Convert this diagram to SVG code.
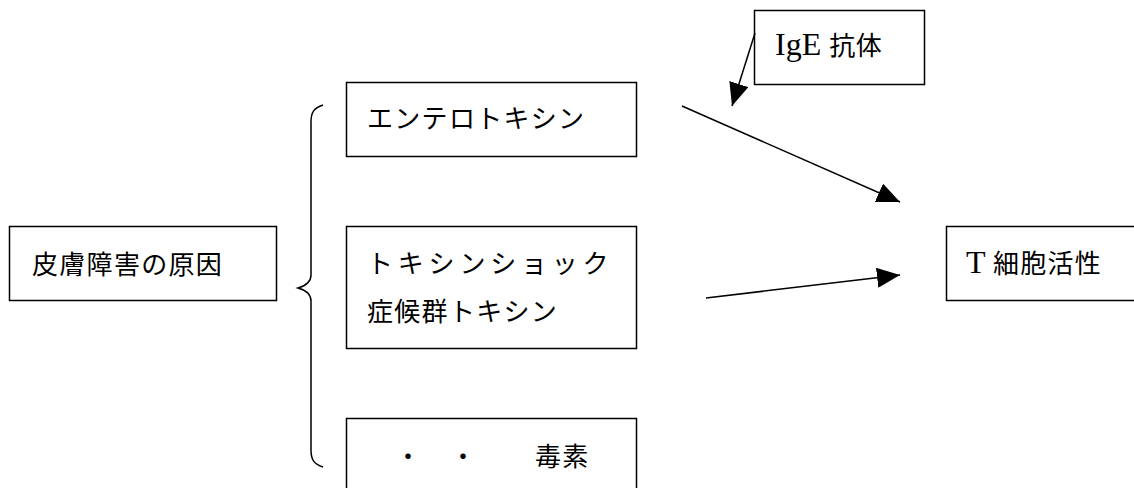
<svg xmlns="http://www.w3.org/2000/svg" width="1134" height="488" viewBox="0 0 1134 488">
<style>
.box{fill:#fff;stroke:#000;stroke-width:1.5}
.jp{font-family:"Noto Sans CJK JP","Noto Sans CJK SC",sans-serif;font-size:26px;fill:#000}
.lat{font-family:"Liberation Serif","Noto Sans CJK JP",serif;font-size:32px;fill:#000}
.cn{stroke:#000;stroke-width:1.5;fill:none}
</style>
<defs>
<marker id="ah" viewBox="0 0 23 20" refX="23" refY="10" markerWidth="23" markerHeight="20" markerUnits="userSpaceOnUse" orient="auto">
<path d="M0,0 L23,10 L0,20 Z" fill="#000"/>
</marker>
</defs>
<rect width="1134" height="488" fill="#fff"/>
<g id="cause">
<rect class="box" x="9.5" y="226.5" width="267" height="74"/>
<text class="jp" x="32" y="274" letter-spacing="1.3">皮膚障害の原因</text>
</g>
<g id="brace">
<path class="cn" d="M323,105 C314,108 311,112 311,122 L311,275 C311,282 305,286 298,288 C305,290 311,294 311,301 L311,450 C311,460 314,464 323,467"/>
</g>
<g id="enterotoxin">
<rect class="box" x="346.5" y="82.5" width="290" height="74"/>
<text class="jp" x="367" y="128" letter-spacing="1.3">エンテロトキシン</text>
</g>
<g id="tsst">
<rect class="box" x="346.5" y="226.5" width="290" height="122"/>
<text class="jp" x="367" y="273" letter-spacing="4.8">トキシンショック</text>
<text class="jp" x="367" y="321" letter-spacing="1.3">症候群トキシン</text>
</g>
<g id="toxin">
<rect class="box" x="346.5" y="418.5" width="290" height="80"/>
<text class="jp" x="395" y="466">・</text>
<text class="jp" x="450" y="466">・</text>
<text class="jp" x="535" y="466" letter-spacing="1.3">毒素</text>
</g>
<g id="ige">
<rect class="box" x="754.5" y="10.5" width="170" height="74"/>
<text class="lat" x="775" y="55">IgE <tspan style="font-family:'Noto Sans CJK JP',sans-serif;font-size:26px;letter-spacing:0.5px">抗体</tspan></text>
</g>
<g id="tcell">
<rect class="box" x="946.5" y="226.5" width="200" height="74"/>
<text class="lat" x="966" y="273">T <tspan style="font-family:'Noto Sans CJK JP',sans-serif;font-size:26px;letter-spacing:1.3px">細胞活性</tspan></text>
</g>
<g id="connectors">
<line class="cn" x1="682" y1="106" x2="900" y2="202" marker-end="url(#ah)"/>
<line class="cn" x1="706" y1="298" x2="900" y2="275" marker-end="url(#ah)"/>
<line class="cn" x1="755" y1="33" x2="732" y2="106" marker-end="url(#ah)"/>
</g>
</svg>
